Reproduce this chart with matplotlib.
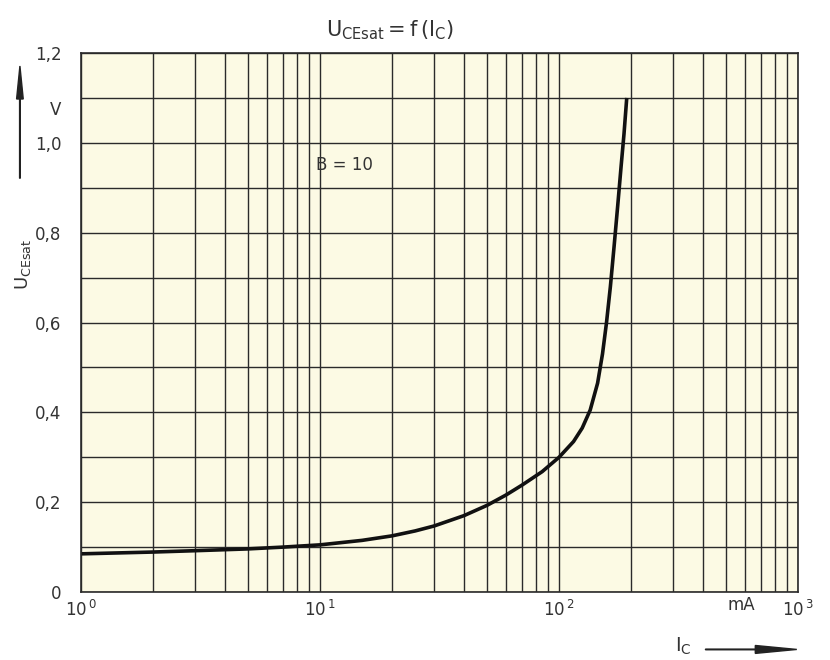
import matplotlib
matplotlib.use("Agg")
import matplotlib.pyplot as plt
from matplotlib.ticker import FixedLocator, NullFormatter

# Collector current (mA) and saturation voltage (V)
ic_ma = [1, 2, 3, 5, 7, 10, 15, 20, 25, 30, 40, 50, 60, 70, 85, 100, 115, 125, 135, 145,
         152, 158, 164, 170, 176, 182, 187, 192]
u_cesat = [0.085, 0.089, 0.092, 0.096, 0.100, 0.105, 0.115, 0.125, 0.136, 0.147, 0.170,
           0.193, 0.216, 0.238, 0.268, 0.300, 0.335, 0.365, 0.405, 0.465,
           0.53, 0.60, 0.68, 0.77, 0.86, 0.95, 1.02, 1.10]

y_ticks = [0, 0.2, 0.4, 0.6, 0.8, 1.0, 1.2]
y_tick_labels = ["0", "0,2", "0,4", "0,6", "0,8", "1,0", "1,2"]
x_ticks = [1, 10, 100, 1000]
x_tick_labels = [r"$10^{\,0}$", r"$10^{\,1}$", r"$10^{\,2}$", r"$10^{\,3}$"]

plt.rcParams["font.family"] = "DejaVu Sans"
plt.rcParams["mathtext.fontset"] = "dejavusans"

fig = plt.figure(figsize=(8.3, 6.6), dpi=100)
ax = fig.add_axes([0.0976, 0.1030, 0.8639, 0.8167])
ax.set_facecolor("#fcfae4")

ax.set_xscale("log")
ax.set_xlim(1, 1000)
ax.set_ylim(0, 1.2)

# grid: every log minor position and every 0.1 V
minor_x = [m * 10 ** d for d in range(3) for m in range(1, 10)] + [1000]
ax.xaxis.set_major_locator(FixedLocator(x_ticks))
ax.xaxis.set_minor_locator(FixedLocator(minor_x))
ax.xaxis.set_minor_formatter(NullFormatter())
ax.set_xticklabels(x_tick_labels)
ax.set_yticks(y_ticks)
ax.set_yticks([i / 10 for i in range(13)], minor=True)
ax.set_yticklabels(y_tick_labels)
ax.grid(True, which="both", color="#2a2a2a", linewidth=1.0)
ax.tick_params(which="both", length=0, labelsize=12, colors="#333333")
ax.tick_params(axis="x", pad=6)
ax.tick_params(axis="y", pad=14)
for s in ax.spines.values():
    s.set_color("#2a2a2a")
    s.set_linewidth(1.2)

ax.plot(ic_ma, u_cesat, color="#111111", linewidth=2.6, solid_capstyle="butt")

ax.text(12.7, 0.95, "B = 10", fontsize=12, color="#333333", ha="center", va="center")

# unit labels
fig.text(0.067, 0.833, "V", fontsize=12, color="#333333", ha="center", va="center")
fig.text(0.893, 0.083, "mA", fontsize=12, color="#333333", ha="center", va="center")

# title
fig.text(0.47, 0.955, r"$\mathrm{U}_{\mathrm{CEsat}} = \mathrm{f}\,(\mathrm{I}_{\mathrm{C}})$",
         fontsize=15, color="#333333", ha="center", va="center")

# axis labels with arrows
fig.text(0.028, 0.60, r"$\mathrm{U}_{\mathrm{CEsat}}$", fontsize=13, color="#333333",
         rotation=90, ha="center", va="center")
fig.patches.append(matplotlib.patches.FancyArrow(
    0.024, 0.73, 0, 0.17, width=0.0008, head_width=0.008, head_length=0.05,
    length_includes_head=True, color="#222222", transform=fig.transFigure))
fig.text(0.823, 0.020, r"$\mathrm{I}_{\mathrm{C}}$", fontsize=14, color="#333333",
         ha="center", va="center")
fig.patches.append(matplotlib.patches.FancyArrow(
    0.85, 0.016, 0.11, 0, width=0.001, head_width=0.012, head_length=0.05,
    length_includes_head=True, color="#222222", transform=fig.transFigure))

fig.savefig("out.png", dpi=100)
